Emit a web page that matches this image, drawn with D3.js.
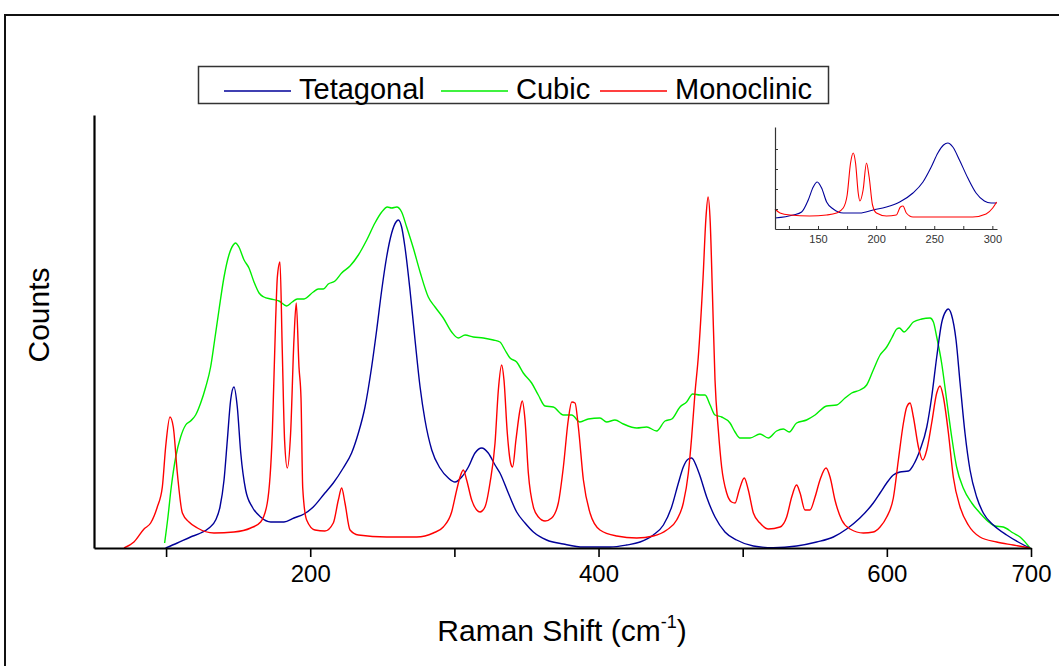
<!DOCTYPE html>
<html><head><meta charset="utf-8">
<script src="https://cdn.jsdelivr.net/npm/d3@7"></script>
<style>body{margin:0;background:#fff}svg{display:block;font-family:"Liberation Sans",Arial,sans-serif}</style>
</head><body>
<svg id="c" width="1059" height="666"></svg>
<script>
// ---- data (Raman shift cm-1, counts in arbitrary units) ----
const seriesNames = ["Tetagonal", "Cubic", "Monoclinic"];
const seriesColors = ["#000099", "#00ee00", "#ff0000"];
const xTickValues = [100, 200, 300, 400, 500, 600, 700];
const xTickLabels = ["", "200", "", "400", "", "600", "700"];
const insetTickValues = [125, 150, 175, 200, 225, 250, 275, 300];
const insetTickLabels = ["", "150", "", "200", "", "250", "", "300"];

const tetragonal = [[99.7,0],[107.8,5],[117,11],[124,15],[129.8,20],[134.4,28],[137.4,41],[140.2,68],[142.5,108],[144.8,148],[147.1,161],[149.4,141],[151.8,95],[155.2,58],[159.8,41],[165.6,31],[172.6,26],[181.8,26],[188.7,30],[195.7,34],[202.1,41],[210.2,55],[216,65],[222.9,80],[228.7,95],[233.4,115],[238,141],[242.6,181],[246.1,218],[249.6,258],[253,291],[256.5,315],[259.5,326],[261.1,328],[263.4,321],[265.7,301],[269.2,258],[272.7,208],[276.2,161],[279.6,128],[284.3,98],[290,80],[295.8,70],[300.4,66],[305.1,71],[309.7,81],[314.3,95],[319,100],[323.5,95],[328.2,83],[331.6,75],[337.4,55],[343.2,36],[349,25],[354.8,16],[364,8],[375.6,4],[389.5,1],[408,1],[419.5,3],[428.8,6],[438,13],[445,23],[450.7,41],[455.4,65],[458.8,81],[462.3,89],[464.6,90],[468.1,81],[470.4,72],[475,51],[480.8,31],[487.7,16],[495.8,8],[507.4,2],[521.2,0.3],[537.4,2],[551.3,6],[562.9,11],[572.1,19],[581.3,30],[590.6,45],[595.3,55],[599.9,65],[604.5,73],[609.1,76],[615,77],[618.4,83],[623,98],[627.7,121],[631.1,151],[634.6,191],[638,225],[641,237],[642.6,239],[644.9,233],[648,208],[650.8,165],[654.2,115],[657.7,78],[662.3,51],[666.9,35],[673.9,23],[683.1,13],[692.4,5],[699.3,0]];

const cubic = [[99,5],[101.3,31],[103.6,61],[106.7,91],[110.1,111],[113.6,123],[117,127],[120.5,133],[124,145],[127.5,161],[130.9,181],[133.7,208],[136.7,238],[140.2,271],[143.6,293],[146.6,303],[148.2,305],[150.5,301],[154.1,288],[157.5,280],[161,266],[164.5,255],[167.9,251],[172.5,249],[178.3,247],[183.6,242],[187.5,246],[191,249],[195.7,249],[202.1,256],[205.6,259],[209.1,259],[212.5,264],[217.2,267],[221.8,275],[227.6,282],[233.4,293],[239.2,308],[244.9,325],[249.6,336],[253.5,341],[256.5,340],[260,341],[263.4,336],[266.9,321],[271.5,300],[276.2,276],[281.9,251],[286.6,241],[292.3,230],[298.1,216],[302.7,210],[307.4,213],[313.1,211],[320.1,210],[327,208],[331.6,206],[335.1,198],[338.6,190],[343.2,186],[347.8,175],[353.6,165],[358.2,153],[362.9,142],[368.6,141],[375.6,133],[381.4,133],[387.1,126],[392.9,129],[401,130],[405.6,126],[411.4,128],[417.2,124],[426.5,120],[433.4,121],[440.3,117],[446.1,127],[450.8,129],[456.5,141],[461.1,146],[465.3,154],[470.4,153],[473.9,153],[477.4,143],[480.8,133],[485.4,131],[491.2,125],[494.7,116],[498.1,110],[505.1,110],[512,114],[517.8,110],[523.5,117],[528.2,119],[532.3,116],[537.4,125],[544.3,128],[550.2,133],[558.2,142],[565.2,143],[571,150],[575.6,155],[581.4,158],[586,163],[590.6,178],[595.3,193],[599.9,201],[603.4,210],[606.9,219],[608.7,220],[612,216],[615,220],[618.4,226],[624.2,229],[630,230],[632.3,226],[634.6,211],[638,185],[641.5,148],[645,111],[648.4,81],[653,60],[658.9,45],[664.6,35],[671.6,25],[675,22],[680.8,21],[687.7,15],[692.4,11],[699.3,0]];

const monoclinic = [[70.8,0],[77.7,6],[84.7,19],[89.3,25],[93.9,41],[97.4,61],[99.7,101],[102.7,131],[105,121],[107.8,75],[111.3,35],[115.9,26],[121.7,20],[133.2,15],[147.1,16],[158.7,20],[165.6,26],[170.2,45],[173.7,115],[176,228],[177.2,271],[179,286],[180.6,198],[182.2,108],[184.1,80],[186.4,115],[188.7,208],[190.3,245],[192.2,181],[193.6,150],[194.8,60],[197.5,28],[203.3,18],[210.2,17],[216,25],[219.5,48],[221.8,60],[224.1,45],[227.6,18],[233.4,13],[253,11],[273.9,11],[285.4,15],[292.3,21],[298.1,36],[301.6,58],[303.9,71],[306.2,78],[308.5,68],[312,48],[315.5,38],[317.8,36],[321.2,41],[324.7,65],[328.2,105],[330.5,158],[332.8,183],[334.4,168],[336.7,115],[339,85],[340.4,81],[342.7,108],[345.5,138],[347.1,147],[349,128],[351.3,75],[354.8,41],[358.3,31],[362.9,27],[367.5,30],[372.1,45],[375.6,81],[379,128],[381.4,146],[383.7,145],[386,121],[389.5,68],[394.1,35],[401,18],[412.6,12],[426.5,10],[438,12],[447.3,18],[454.2,28],[458.8,45],[462.3,75],[464.6,111],[466.9,155],[469.2,191],[472.5,270],[474.5,330],[476,351],[477.5,325],[479,255],[480.8,168],[483.1,118],[485.4,81],[488.9,55],[492.3,46],[494.7,45],[497.6,58],[501.1,70],[503.9,58],[507.4,35],[512,25],[517.8,19],[525.9,21],[530.5,31],[534,51],[537.4,63],[539.8,55],[543.2,38],[546.7,38],[550.2,51],[553.6,68],[557.8,80],[560.6,71],[564,48],[568.7,28],[574.5,19],[583.7,15],[590.6,16],[595.3,21],[599.9,31],[604.5,50],[608,88],[611.5,125],[613.8,141],[616.1,145],[618.4,131],[621.9,101],[624.9,88],[627.7,98],[631.1,125],[634.6,155],[636.9,162],[639.2,151],[642.7,115],[646.1,71],[650.8,41],[656.5,23],[664.6,11],[676.2,6],[687.7,3],[699.3,0]];

// inset (zoom of 113-304 cm-1)
const insetTetragonal = [[113,11],[128.7,14],[135.9,17],[141.6,29],[145.9,42],[149.3,47],[153.1,41],[157.4,27],[163.1,20],[171.7,16],[186,16],[197.4,19],[208.9,22],[220.3,27],[231.7,36],[240.3,47],[247.4,62],[253.1,76],[258,84],[261.7,86],[266,82],[271.7,69],[278.9,51],[286,36],[293.1,28],[298.9,26],[303.7,26]];
const insetMonoclinic = [[113,20],[117.3,16],[125.9,14],[143,13],[157.4,14],[166,16],[171.7,21],[175.1,34],[178,66],[180.3,76],[182.3,66],[184.6,36],[186,28],[188.8,39],[191.7,66],[194,52],[196.9,24],[200.3,16],[208.9,13],[217.4,14],[220.9,22],[223.1,23],[226,16],[231.7,12],[257.4,12],[283.1,12],[294.6,15],[300.3,21],[303.7,27]];
const insetYTicks = [20, 40, 60, 80];

// ---- drawing ----
const svg = d3.select("#c");
svg.append("rect").attr("x", 5).attr("y", 15).attr("width", 1100).attr("height", 700)
  .attr("fill", "none").attr("stroke", "#111").attr("stroke-width", 2);

const x = d3.scaleLinear().domain([50, 700]).range([94, 1031]);
const y = d3.scaleLinear().domain([0, 433]).range([548, 115]);

const line = d3.line().x(d => x(d[0])).y(d => y(d[1])).curve(d3.curveMonotoneX);
const mainData = [tetragonal, cubic, monoclinic];
const order = [1, 0, 2];
order.forEach(i => {
  svg.append("path").attr("d", line(mainData[i])).attr("fill", "none")
    .attr("stroke", seriesColors[i]).attr("stroke-width", 1.4);
});

const xAxis = svg.append("g").attr("transform", "translate(0,548)")
  .call(d3.axisBottom(x).tickValues(xTickValues).tickSize(9).tickSizeOuter(0)
    .tickFormat((d, i) => xTickLabels[i]).tickPadding(8));
xAxis.select(".domain").attr("stroke", "#000").attr("stroke-width", 2.2);
xAxis.selectAll(".tick line").attr("stroke", "#000").attr("stroke-width", 1.6);
xAxis.selectAll(".tick text").attr("font-size", 24).attr("fill", "#000")
  .attr("font-family", "Liberation Sans, Arial, sans-serif");

const yAxis = svg.append("g").attr("transform", "translate(94,0)")
  .call(d3.axisLeft(y).tickValues([]).tickSizeOuter(0));
yAxis.select(".domain").attr("stroke", "#000").attr("stroke-width", 2.2);

// axis titles
const xt = svg.append("text").attr("x", 562).attr("y", 641).attr("text-anchor", "middle")
  .attr("font-size", 30).attr("fill", "#000");
xt.append("tspan").text("Raman Shift (cm");
xt.append("tspan").attr("font-size", 18).attr("dy", -13).text("-1");
xt.append("tspan").attr("dy", 13).text(")");

svg.append("text").attr("transform", "translate(49,315) rotate(-90)")
  .attr("text-anchor", "middle").attr("font-size", 30).attr("fill", "#000").text("Counts");

// legend
svg.append("rect").attr("x", 198.5).attr("y", 66.5).attr("width", 630).attr("height", 37)
  .attr("fill", "#fff").attr("stroke", "#333").attr("stroke-width", 1.5);
const legX = [224, 441, 600];
seriesNames.forEach((n, i) => {
  svg.append("line").attr("x1", legX[i]).attr("x2", legX[i] + 67).attr("y1", 91).attr("y2", 91)
    .attr("stroke", seriesColors[i]).attr("stroke-width", 1.4);
  svg.append("text").attr("x", legX[i] + 75).attr("y", 98.5).attr("font-size", 29)
    .attr("fill", "#000").text(n);
});

// inset
const ix = d3.scaleLinear().domain([113, 304]).range([775, 997]);
const iy = d3.scaleLinear().domain([0, 102]).range([229, 127]);
const iline = d3.line().x(d => ix(d[0])).y(d => iy(d[1])).curve(d3.curveMonotoneX);
svg.append("path").attr("d", iline(insetTetragonal)).attr("fill", "none")
  .attr("stroke", seriesColors[0]).attr("stroke-width", 1.1);
svg.append("path").attr("d", iline(insetMonoclinic)).attr("fill", "none")
  .attr("stroke", seriesColors[2]).attr("stroke-width", 1.1);

const ixAxis = svg.append("g").attr("transform", "translate(0,229)")
  .call(d3.axisBottom(ix).tickValues(insetTickValues).tickSize(-3).tickSizeOuter(0)
    .tickFormat((d, i) => insetTickLabels[i]).tickPadding(6));
ixAxis.select(".domain").attr("stroke", "#333").attr("stroke-width", 1.2);
ixAxis.selectAll(".tick line").attr("stroke", "#333");
ixAxis.selectAll(".tick text").attr("font-size", 11).attr("fill", "#333")
  .attr("font-family", "Liberation Sans, Arial, sans-serif");

const iyAxis = svg.append("g").attr("transform", "translate(775,0)")
  .call(d3.axisLeft(iy).tickValues(insetYTicks).tickSize(-3).tickSizeOuter(0).tickFormat(""));
iyAxis.select(".domain").attr("stroke", "#333").attr("stroke-width", 1.2);
iyAxis.selectAll(".tick line").attr("stroke", "#333");
</script>
</body></html>
